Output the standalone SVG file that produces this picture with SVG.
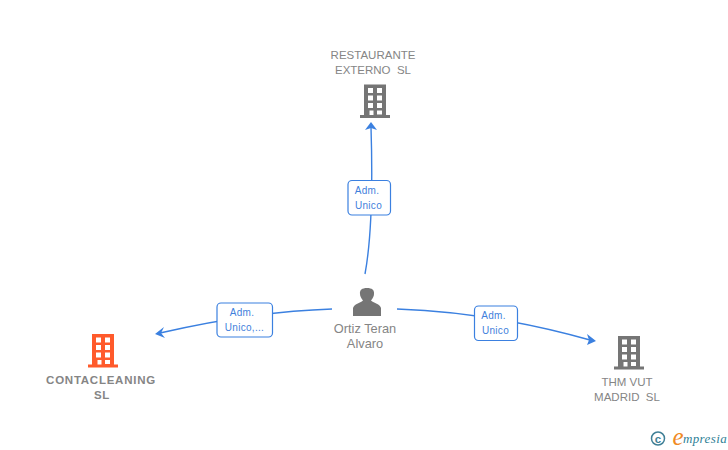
<svg xmlns="http://www.w3.org/2000/svg" width="728" height="450" viewBox="0 0 728 450">
<style>
text{font-family:"Liberation Sans",Arial,sans-serif;text-anchor:middle}
.n{font-size:11.500px;fill:#858585}
.nb{font-size:11.500px;fill:#858585;font-weight:700;letter-spacing:.75px}
.p{font-size:12.800px;fill:#858585}
.l{font-size:10px;fill:#3f7fdc;letter-spacing:.3px}
.c{fill:none;stroke:#3b80e0;stroke-width:1.400}
.a{fill:#3b80e0}
.b{fill:#fff;stroke:#3b80e0;stroke-width:1.200}
</style>
<defs>
<g id="bld">
<path fill-rule="evenodd" d="M-11-16.500H11V14H15V17H-15V14H-11ZM-7-13V-8H-2V-13ZM2-13V-8H7V-13ZM-7-5.500V-.5H-2V-5.500ZM2-5.500V-.5H7V-5.500ZM-7 2V7H-2V2ZM2 2V7H7V2ZM-5.500 9.500V14H-1.500V9.500ZM2 9.500V13.500H7V9.500Z"/>
</g>
</defs>
<g id="connectors">
<path class="c" d="M365 274Q374 225 371 127"/>
<path class="a" d="M371 122L377 130L371 128L365 130Z"/>
<path class="c" d="M332 309Q250 312 160 333"/>
<path class="a" d="M155 334L164 327L161 333L165 338Z"/>
<path class="c" d="M397 309Q490 312 590 340"/>
<path class="a" d="M596 341L587 345L589 340L587 334Z"/>
</g>
<g id="label-top"><rect class="b" x="348" y="180.500" width="42.500" height="34.500" rx="4"/><text class="l" x="367" y="194">Adm.</text><text class="l" x="368.500" y="209">Unico</text></g>
<g id="label-left"><rect class="b" x="217" y="303" width="55.500" height="34" rx="4"/><text class="l" x="242" y="316">Adm.</text><text class="l" x="244.500" y="331">Unico,...</text></g>
<g id="label-right"><rect class="b" x="474.500" y="306" width="43" height="34.500" rx="4"/><text class="l" x="493.500" y="319">Adm.</text><text class="l" x="495.500" y="334">Unico</text></g>
<g id="node-restaurante"><text class="n" x="373" y="59">RESTAURANTE</text><text class="n" x="373" y="74" xml:space="preserve">EXTERNO  SL</text><use href="#bld" x="375" y="101" fill="#757575"/></g>
<g id="node-contacleaning"><use href="#bld" x="103" y="350.500" fill="#ff5a2b"/><text class="nb" x="101" y="384">CONTACLEANING</text><text class="nb" x="102" y="399">SL</text></g>
<g id="node-thm"><use href="#bld" x="629" y="352.500" fill="#757575"/><text class="n" x="627" y="386">THM VUT</text><text class="n" x="627" y="401" xml:space="preserve">MADRID  SL</text></g>
<g id="node-ortiz"><path fill="#757575" d="M353 316V308C354 304 360 303 363 300.500C361 298 360 296 360 294C359.500 290 362 288 367 288C372 288 374.500 290 374 294C374 296 373 298 371 300.500C374 303 380 304 381 308V316Z"/><text class="p" x="365" y="333">Ortiz Teran</text><text class="p" x="365" y="348">Alvaro</text></g>
<g id="logo"><circle cx="658" cy="438.500" r="6.500" fill="none" stroke="#3f7f96" stroke-width="1.500"/><text x="658" y="442.500" style="font-size:11.500px;font-weight:700;fill:#3f7f96">c</text><text x="678" y="445" style="font-family:'Liberation Serif',serif;font-size:25px;font-style:italic;fill:#f08a24">e</text><text x="705" y="443" style="font-family:'Liberation Serif',serif;font-size:13px;font-style:italic;fill:#2f7f96;letter-spacing:.4px">mpresia</text></g>
</svg>
